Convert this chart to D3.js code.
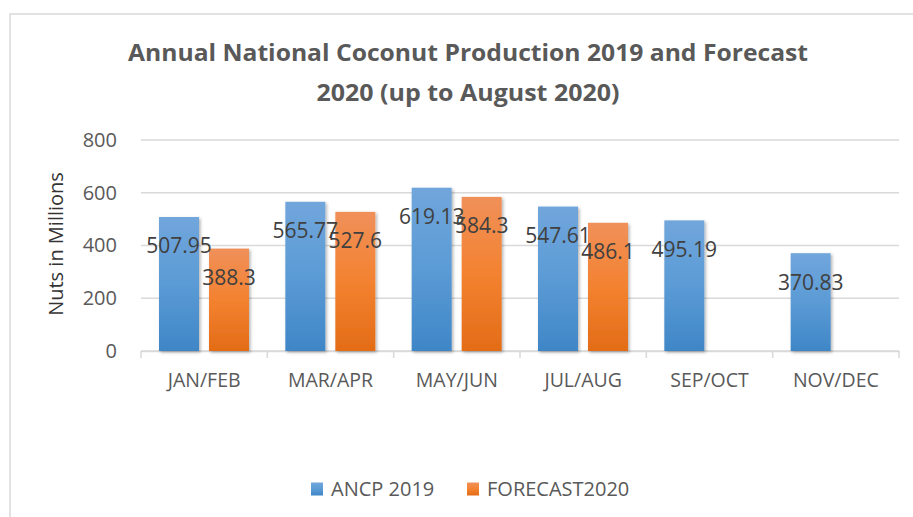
<!DOCTYPE html>
<html>
<head>
<meta charset="utf-8">
<script src="https://cdn.jsdelivr.net/npm/d3@7"></script>
<style>
  body { margin: 0; background: #fff; }
  text { font-family: "Open Sans", sans-serif; }
</style>
</head>
<body>
<script>
// chart data
var categories = ["JAN/FEB", "MAR/APR", "MAY/JUN", "JUL/AUG", "SEP/OCT", "NOV/DEC"];
var seriesNames = ["ANCP 2019", "FORECAST2020"];
var ancp2019 = [507.95, 565.77, 619.13, 547.61, 495.19, 370.83];
var forecast2020 = [388.3, 527.6, 584.3, 486.1, null, null];
var yTicks = [0, 200, 400, 600, 800];

var width = 913, height = 517;
var plot = { left: 141, right: 899, top: 140, bottom: 351 };

var svg = d3.select("body").append("svg")
    .attr("width", width)
    .attr("height", height);

// gradients + shadow for the bars
var defs = svg.append("defs");
function gradient(id, top, mid, bottom) {
    var g = defs.append("linearGradient").attr("id", id)
        .attr("x1", 0).attr("y1", 0).attr("x2", 0).attr("y2", 1);
    g.append("stop").attr("offset", "0%").attr("stop-color", top);
    g.append("stop").attr("offset", "50%").attr("stop-color", mid);
    g.append("stop").attr("offset", "100%").attr("stop-color", bottom);
}
gradient("gBlue", "#71a6dc", "#5b9bd5", "#3f86c7");
gradient("gOrange", "#f0905a", "#f38230", "#e36c17");
defs.append("filter").attr("id", "shadow")
    .attr("x", "-20%").attr("y", "-10%").attr("width", "140%").attr("height", "120%")
    .append("feDropShadow")
    .attr("dx", 1.5).attr("dy", 1.5).attr("stdDeviation", 1.5)
    .attr("flood-color", "#000").attr("flood-opacity", 0.3);

// chart border
svg.append("rect")
    .attr("x", 10).attr("y", 14)
    .attr("width", 930).attr("height", 530)
    .attr("fill", "none")
    .attr("stroke", "#d9d9d9")
    .attr("stroke-width", 1.5);

// title (keeps the double space of the original)
var title = svg.append("g")
    .attr("fill", "#595959")
    .attr("font-weight", "bold")
    .attr("font-size", 24)
    .attr("text-anchor", "middle")
    .style("white-space", "pre");
title.append("text").attr("x", 468).attr("y", 61)
    .attr("textLength", 680).attr("lengthAdjust", "spacingAndGlyphs")
    .text("Annual National Coconut Production 2019  and Forecast");
title.append("text").attr("x", 468).attr("y", 101)
    .attr("textLength", 303).attr("lengthAdjust", "spacingAndGlyphs")
    .text("2020 (up to August 2020)");

// scales
var x0 = d3.scaleBand()
    .domain(categories)
    .range([plot.left, plot.right]);

var x1 = d3.scaleBand()
    .domain(seriesNames)
    .range([18, 108])
    .paddingInner(0.2);

var y = d3.scaleLinear()
    .domain([0, 800])
    .range([plot.bottom, plot.top]);

// gridlines
svg.append("g").selectAll("line")
    .data(yTicks)
    .enter().append("line")
    .attr("x1", plot.left).attr("x2", plot.right)
    .attr("y1", function(d) { return y(d); })
    .attr("y2", function(d) { return y(d); })
    .attr("stroke", "#d9d9d9")
    .attr("stroke-width", 1.5);

// y axis labels
var yAxis = svg.append("g")
    .attr("transform", "translate(" + (plot.left - 6) + ",0)")
    .call(d3.axisLeft(y).tickValues(yTicks).tickSize(0).tickPadding(18));
yAxis.select(".domain").remove();
yAxis.selectAll("text")
    .attr("fill", "#595959")
    .style("font-family", "'Open Sans', sans-serif")
    .style("font-size", "20px");

svg.append("text")
    .attr("transform", "translate(63,244) rotate(-90)")
    .attr("text-anchor", "middle")
    .attr("fill", "#333333")
    .attr("font-size", 20)
    .text("Nuts in Millions");

// x axis
var xAxis = svg.append("g")
    .attr("transform", "translate(0," + plot.bottom + ")")
    .call(d3.axisBottom(x0).tickSize(0).tickPadding(22));
xAxis.select(".domain").attr("stroke", "#d9d9d9").attr("stroke-width", 1.5);
xAxis.selectAll("text")
    .attr("fill", "#595959")
    .style("font-family", "'Open Sans', sans-serif")
    .style("font-size", "19.5px");
// category separator ticks
var boundaries = categories.map(function(c) { return x0(c); }).concat([plot.right]);
xAxis.selectAll(".sep")
    .data(boundaries)
    .enter().append("line")
    .attr("class", "sep")
    .attr("x1", function(d) { return d; }).attr("x2", function(d) { return d; })
    .attr("y1", 0).attr("y2", 7)
    .attr("stroke", "#d9d9d9")
    .attr("stroke-width", 1.5);

// bars
var rows = [];
categories.forEach(function(c, i) {
    rows.push({ cat: c, series: seriesNames[0], value: ancp2019[i], fill: "url(#gBlue)" });
    if (forecast2020[i] != null)
        rows.push({ cat: c, series: seriesNames[1], value: forecast2020[i], fill: "url(#gOrange)" });
});

svg.append("g").selectAll("rect")
    .data(rows)
    .enter().append("rect")
    .attr("x", function(d) { return x0(d.cat) + x1(d.series); })
    .attr("y", function(d) { return y(d.value); })
    .attr("width", x1.bandwidth())
    .attr("height", function(d) { return y(0) - y(d.value); })
    .attr("fill", function(d) { return d.fill; })
    .attr("filter", "url(#shadow)");

// data labels
svg.append("g").selectAll("text")
    .data(rows)
    .enter().append("text")
    .attr("x", function(d) { return x0(d.cat) + x1(d.series) + x1.bandwidth() / 2; })
    .attr("y", function(d) { return y(d.value) + 29; })
    .attr("dy", "0.35em")
    .attr("text-anchor", "middle")
    .attr("fill", "#404040")
    .attr("font-size", 21)
    .text(function(d) { return d.value; });

// legend
var legendX = [311, 467];
var legendFill = ["url(#gBlue)", "url(#gOrange)"];
var legend = svg.append("g").selectAll("g")
    .data(seriesNames)
    .enter().append("g")
    .attr("transform", function(d, i) { return "translate(" + legendX[i] + ",489)"; });
legend.append("rect")
    .attr("x", 0).attr("y", -6.5)
    .attr("width", 12).attr("height", 13)
    .attr("fill", function(d, i) { return legendFill[i]; });
legend.append("text")
    .attr("x", 20).attr("dy", "0.35em")
    .attr("fill", "#595959")
    .attr("font-size", 20)
    .text(function(d) { return d; });
</script>
</body>
</html>
